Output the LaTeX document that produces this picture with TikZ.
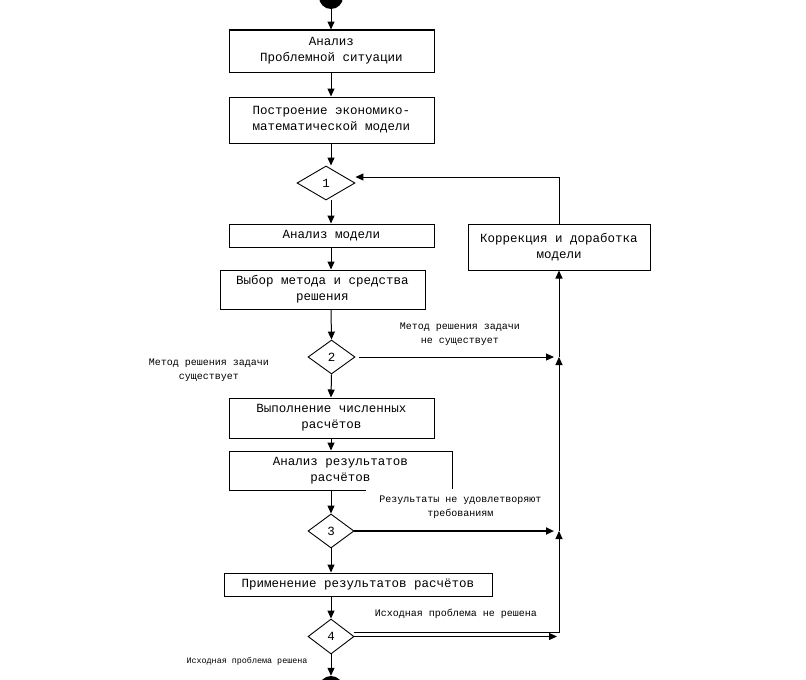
\documentclass[tikz,border=0pt]{standalone}
\usepackage{fontspec}
\setmainfont{Liberation Mono}
\usetikzlibrary{arrows.meta,shapes.geometric}
\begin{document}
\begin{tikzpicture}[x=1pt,y=-1pt,
  box/.style={draw,line width=1pt,inner sep=0pt,align=center,font=\fontsize{12.5}{16}\selectfont},
  dia/.style={draw,diamond,line width=0.9pt,inner sep=0pt,font=\fontsize{12.5}{16}\selectfont},
  lbl/.style={align=center,font=\fontsize{10}{14}\selectfont,inner sep=0pt},
  arr/.style={-{Triangle[length=8pt,width=7pt]},line width=1pt},
  ln/.style={line width=1pt}]
\useasboundingbox (0,0) rectangle (806,680);
\coordinate (ax) at (331,0);
\coordinate (rx) at (559,0);
% start / end
\node[circle,fill,minimum size=24,inner sep=0pt] (s) at (331,-3) {};
\node[circle,fill,minimum size=24,inner sep=0pt] (e) at (331,688) {};
% boxes
\node[box,minimum width=205,minimum height=42] (b1) at (331.5,51) {Анализ\\Проблемной ситуации};
\draw[line width=2pt] (b1.north west) -- (b1.north east);
\node[box,minimum width=205,minimum height=46] (b2) at (331.5,120) {Построение экономико-\\математической модели};
\node[dia,minimum width=58,minimum height=34] (d1) at (326,183) {1};
\node[box,minimum width=205,minimum height=23] (b3) at (331.5,235.5) {Анализ модели};
\node[box,minimum width=205,minimum height=39] (b4) at (322.5,289.5) {Выбор метода и средства\\решения};
\node[dia,minimum width=47,minimum height=34] (d2) at (331.5,357) {2};
\node[box,minimum width=205,minimum height=40] (b5) at (331.5,418) {Выполнение численных\\расчётов};
\node[box,minimum width=223,minimum height=39] (b6) at (340.5,470.5) {Анализ результатов\\расчётов};
\node[dia,minimum width=46,minimum height=34] (d3) at (331,531) {3};
\node[box,minimum width=268,minimum height=23] (b7) at (358,584.5) {Применение результатов расчётов};
\node[dia,minimum width=46,minimum height=35] (d4) at (331,636.5) {4};
\node[box,minimum width=182,minimum height=46] (bk) at (559,247) {Коррекция и доработка\\модели};
% labels
\node[lbl] (l1) at (460,334) {Метод решения задачи\\не существует};
\node[lbl] (l2) at (209,370.5) {Метод решения задачи\\существует};
\node[lbl,fill=white,minimum width=190,minimum height=36] (l3) at (460.5,507) {Результаты не удовлетворяют\\требованиям};
\node[lbl] (l4) at (456,614) {Исходная проблема не решена};
\node[lbl,font=\fontsize{8.4}{10}\selectfont] (l5) at (247,661) {Исходная проблема решена};
% main flow
\draw[arr] (s.south) -- (s.south |- b1.north);
\draw[arr] (b1.south -| ax) -- (b2.north -| ax);
\draw[arr] (b2.south -| ax) -- (d1.north -| ax);
\draw[arr] (d1.south -| ax) -- (b3.north -| ax);
\draw[arr] (b3.south -| ax) -- (b4.north -| ax);
\draw[arr] (b4.south -| ax) -- (d2.north);
\draw[arr] (d2.south) -- (b5.north -| ax);
\draw[arr] (b5.south -| ax) -- (b6.north -| ax);
\draw[arr] (b6.south -| ax) -- (d3.north);
\draw[arr] (d3.south) -- (b7.north -| ax);
\draw[arr] (b7.south -| ax) -- (d4.north);
\draw[arr] (d4.south) -- (e.north);
% feedback
\coordinate (j2) at (559,357);
\coordinate (j3) at (559,531);
\coordinate (lp) at (559,177);
\draw[arr] ([xshift=4pt]d2.east) -- ([xshift=-5pt]j2);
\draw[arr,line width=2pt] (d3.east) -- ([xshift=-5pt]j3);
\draw[arr] (d4.east) -- ([xshift=-2pt]d4.east -| rx);
\draw[arr] ([yshift=4.5pt]d4.east) -- ([yshift=4.5pt]d4.east -| rx) -- (j3);
\draw[arr] (j3) -- (j2);
\draw[arr] (j2) -- (bk.south);
\draw[arr] (bk.north) -- (lp) -- (lp -| d1.east);
\end{tikzpicture}
\end{document}
